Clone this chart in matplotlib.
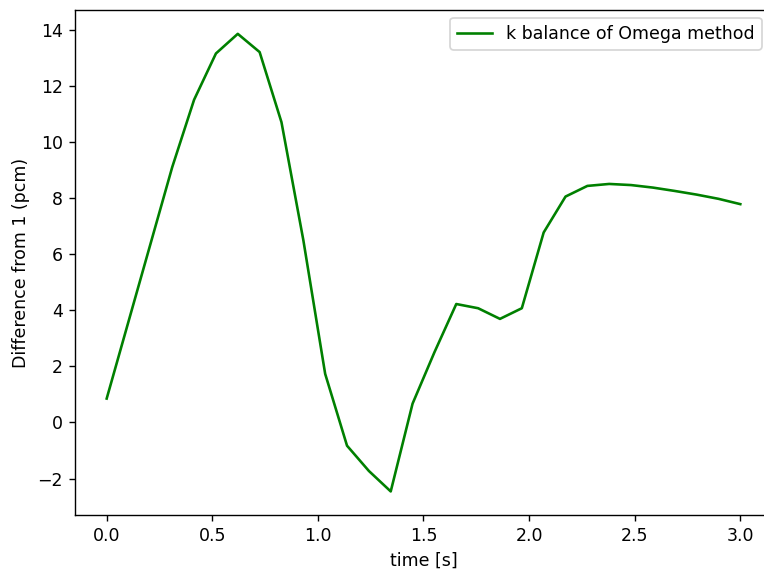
import numpy as np
import matplotlib
matplotlib.use("Agg")
import matplotlib.pyplot as plt

time_s = np.linspace(0, 3.0, 30)
diff_pcm = [0.85, 3.6, 6.35, 9.1, 11.5, 13.15, 13.85, 13.2, 10.7, 6.5,
            1.73, -0.83, -1.73, -2.46, 0.67, 2.5, 4.22, 4.07, 3.69, 4.07,
            6.77, 8.05, 8.43, 8.5, 8.46, 8.37, 8.25, 8.12, 7.97, 7.78]
series_label = "k balance of Omega method"
xlabel = "time [s]"
ylabel = "Difference from 1 (pcm)"

DPI = 125
W, H = 764, 574
fig = plt.figure(figsize=(W / DPI, H / DPI), dpi=DPI)
left, right, top, bottom = 75, 772, 10, 515
ax = fig.add_axes([left / W, (H - bottom) / H, (right - left) / W, (bottom - top) / H])
ax.plot(time_s, diff_pcm, color="green", label=series_label)
ax.set_xlabel(xlabel)
ax.set_ylabel(ylabel)
ax.set_ylim(-3.3, 14.7)
ax.legend(loc="upper right", bbox_to_anchor=(761.5 / W, 1 - 18 / H),
          bbox_transform=fig.transFigure, borderaxespad=0)
fig.savefig("out.png", dpi=DPI)
